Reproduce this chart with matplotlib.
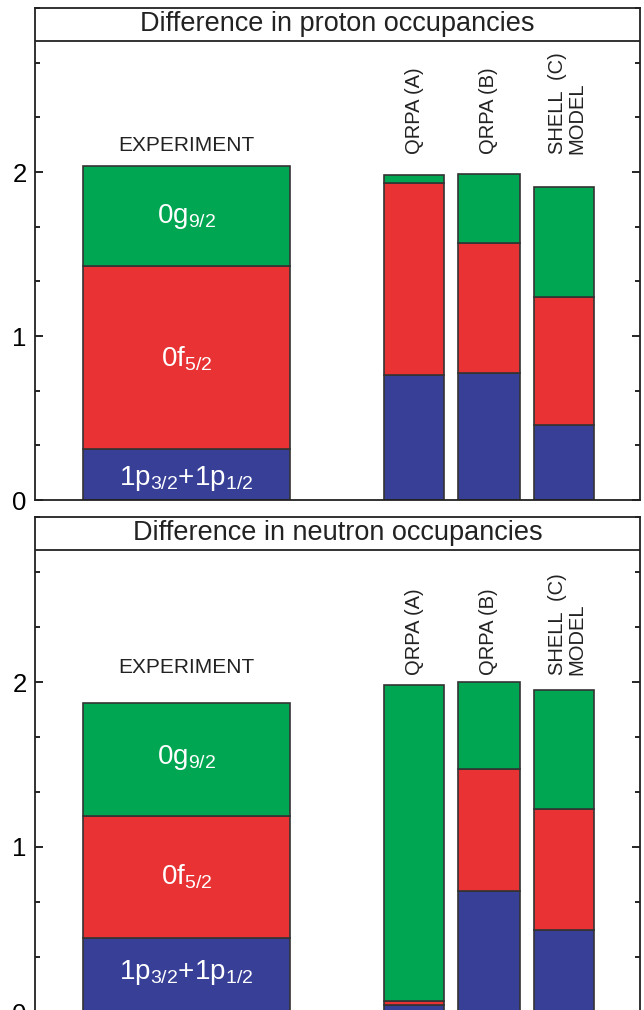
import matplotlib
matplotlib.use("Agg")
import matplotlib.pyplot as plt
from matplotlib.ticker import MultipleLocator
import numpy as np

plt.rcParams['font.family'] = ['Liberation Sans', 'DejaVu Sans']
plt.rcParams['mathtext.fontset'] = 'custom'
plt.rcParams['mathtext.rm'] = 'Liberation Sans'
plt.rcParams['mathtext.it'] = 'Liberation Sans'

# stacked shell contributions (cumulative tops)
columns = ['EXPERIMENT', 'QRPA (A)', 'QRPA (B)', 'SHELL  (C)\nMODEL']
shells = ['1p', '0f', '0g']

proton_p = [0.31, 0.765, 0.775, 0.455]
proton_f = [1.115, 1.165, 0.795, 0.78]
proton_g = [0.61, 0.05, 0.42, 0.675]

neutron_p = [0.45, 0.045, 0.735, 0.495]
neutron_f = [0.74, 0.02, 0.735, 0.735]
neutron_g = [0.68, 1.915, 0.53, 0.72]

titles = ['Difference in proton occupancies', 'Difference in neutron occupancies']
shell_labels = [r'$\mathrm{1p_{3/2}{+}1p_{1/2}}$', r'$\mathrm{0f_{5/2}}$', r'$\mathrm{0g_{9/2}}$']

colors = ['#373f97', '#e93234', '#00a651']
edge = '#333333'

W, H = 644, 1010
fig = plt.figure(figsize=(W / 100, H / 100), dpi=100)

# bar geometry in axis pixel units (axes spans 605 px)
centers = [151.5, 379, 454, 529]
widths = [207, 60, 62, 60]

def panel(rect, p, f, g, title, exp_y, lab_y, rot_y):
    ax = fig.add_axes(rect)
    bottom = np.zeros(4)
    for vals, c in zip([p, f, g], colors):
        ax.bar(centers, vals, width=widths, bottom=bottom, color=c,
               edgecolor=edge, linewidth=1.2, zorder=2)
        bottom = bottom + np.array(vals)
    ax.set_xlim(0, 605)
    ax.set_ylim(0, 3.0)
    ax.set_xticks([])
    ax.yaxis.set_major_locator(MultipleLocator(1))
    ax.yaxis.set_minor_locator(MultipleLocator(1 / 3))
    ax.set_yticks([0, 1, 2])
    ax.set_yticklabels(['0', '1', '2'])
    ax.tick_params(axis='y', which='major', direction='in', length=6, width=1.2,
                   right=True, labelsize=18.5, pad=6)
    ax.tick_params(axis='y', which='minor', direction='in', length=3.5, width=1.2,
                   right=True)
    for s in ax.spines.values():
        s.set_linewidth(1.3)
        s.set_color('#222222')
    # title box
    ax.axhline(2.8, color='#222222', linewidth=1.3, zorder=3)
    ax.text(302.5, 2.9, title, ha='center', va='center', fontsize=19.5, color='#222222')
    ax.text(centers[0], exp_y, columns[0], ha='center', va='center', fontsize=15, color='#222222')
    for i in range(1, 4):
        ax.text(centers[i] + (3 if i == 3 else 0), rot_y, columns[i], rotation=90,
                ha='center', va='bottom', multialignment='left', fontsize=14.5,
                color='#222222', linespacing=1.0)
    for lbl, y in zip(shell_labels, lab_y):
        ax.text(centers[0], y, lbl, ha='center', va='center', fontsize=20, color='white', zorder=4)
    return ax

panel([35 / W, 1 - 500 / H, 605 / W, 492 / H], proton_p, proton_f, proton_g,
      titles[0], 2.16, [0.13, 0.86, 1.73], 2.11)
panel([35 / W, -2 / H, 605 / W, 495 / H], neutron_p, neutron_f, neutron_g,
      titles[1], 2.09, [0.24, 0.82, 1.54], 2.04)

fig.savefig('out.png', dpi=100)
